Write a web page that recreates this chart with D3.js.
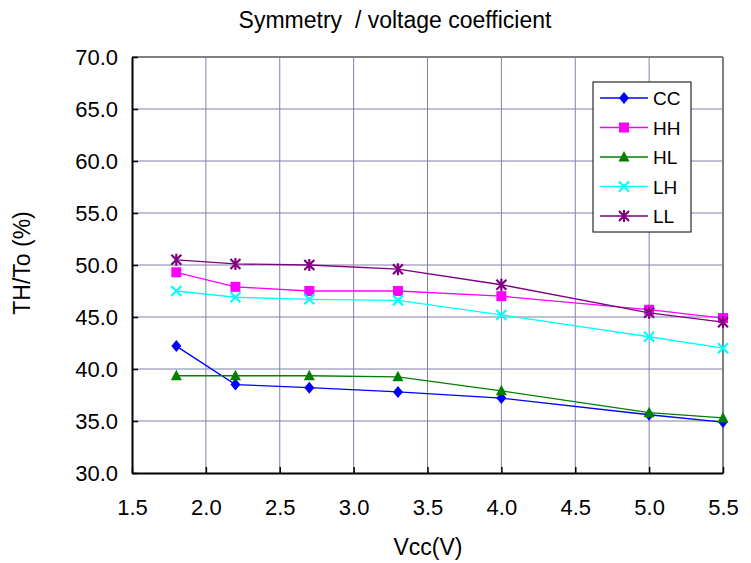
<!DOCTYPE html>
<html>
<head>
<meta charset="utf-8">
<script src="https://cdn.jsdelivr.net/npm/d3@7"></script>
<style>
  body { margin: 0; background: #fff; }
  text { font-family: "Liberation Sans", Arial, sans-serif; fill: #000; }
</style>
</head>
<body>
<div id="chart"></div>
<script>
// data
var vcc = [1.8, 2.2, 2.7, 3.3, 4.0, 5.0, 5.5];
var CC = [42.2, 38.5, 38.2, 37.8, 37.2, 35.6, 34.9];
var HH = [49.3, 47.9, 47.5, 47.5, 47.0, 45.7, 44.9];
var HL = [39.35, 39.35, 39.35, 39.25, 37.9, 35.8, 35.3];
var LH = [47.5, 46.9, 46.7, 46.6, 45.2, 43.1, 42.0];
var LL = [50.5, 50.1, 50.0, 49.6, 48.1, 45.4, 44.5];
var xTicks = [1.5, 2.0, 2.5, 3.0, 3.5, 4.0, 4.5, 5.0, 5.5];
var yTicks = [30, 35, 40, 45, 50, 55, 60, 65, 70];

var series = [
  {name: "CC", values: CC, color: "#0000ff", mark: "diamond"},
  {name: "HH", values: HH, color: "#ff00ff", mark: "square"},
  {name: "HL", values: HL, color: "#008000", mark: "triangle"},
  {name: "LH", values: LH, color: "#00ffff", mark: "x"},
  {name: "LL", values: LL, color: "#800080", mark: "star"}
];

var margin = {top: 57, right: 28, bottom: 90, left: 132},
    width = 751 - margin.left - margin.right,
    height = 563 - margin.top - margin.bottom;

var svgRoot = d3.select("#chart")
  .append("svg")
    .attr("width", 751)
    .attr("height", 563);

var svg = svgRoot.append("g")
    .attr("transform", "translate(" + margin.left + "," + margin.top + ")");

var x = d3.scaleLinear().domain([1.5, 5.5]).range([0, width]);
var y = d3.scaleLinear().domain([30, 70]).range([height, 0]);

// grid
svg.append("g").selectAll("line.vg")
  .data(xTicks.slice(1, -1))
  .enter().append("line")
    .attr("x1", function(d) { return x(d); })
    .attr("x2", function(d) { return x(d); })
    .attr("y1", 0).attr("y2", height)
    .attr("stroke", "#8080a8").attr("stroke-width", 1);
svg.append("g").selectAll("line.hg")
  .data(yTicks.slice(1, -1))
  .enter().append("line")
    .attr("y1", function(d) { return y(d); })
    .attr("y2", function(d) { return y(d); })
    .attr("x1", 0).attr("x2", width)
    .attr("stroke", "#8080a8").attr("stroke-width", 1);

// top and right border
svg.append("line").attr("x1", 0).attr("x2", width).attr("y1", 0).attr("y2", 0)
  .attr("stroke", "#808080").attr("stroke-width", 2);
svg.append("line").attr("x1", width).attr("x2", width).attr("y1", 0).attr("y2", height)
  .attr("stroke", "#808080").attr("stroke-width", 2);

// axes
var xAxis = svg.append("g")
  .attr("transform", "translate(0," + height + ")")
  .call(d3.axisBottom(x).tickValues(xTicks).tickFormat(d3.format(".1f")).tickSizeInner(-6).tickSizeOuter(0).tickPadding(26));
var yAxis = svg.append("g")
  .call(d3.axisLeft(y).tickValues(yTicks).tickFormat(d3.format(".1f")).tickSizeInner(-6).tickSizeOuter(0).tickPadding(14));
[xAxis, yAxis].forEach(function(a) {
  a.select(".domain").attr("stroke", "#000").attr("stroke-width", 2);
  a.selectAll(".tick line").attr("stroke", "#000").attr("stroke-width", 1.5);
  a.selectAll(".tick text").style("font-size", "22px").style("font-family", "Liberation Sans, Arial, sans-serif").attr("fill", "#000");
});

// marker drawing
function drawMark(g, type, color) {
  if (type === "diamond") {
    g.append("path").attr("d", "M0,-6L5,0L0,6L-5,0Z").attr("fill", color);
  } else if (type === "square") {
    g.append("rect").attr("x", -5).attr("y", -5).attr("width", 10).attr("height", 10).attr("fill", color);
  } else if (type === "triangle") {
    g.append("path").attr("d", "M0,-6L5.5,4.5L-5.5,4.5Z").attr("fill", color);
  } else if (type === "x") {
    g.append("path").attr("d", "M-5,-5L5,5M-5,5L5,-5").attr("stroke", color).attr("stroke-width", 2.2).attr("fill", "none");
  } else if (type === "star") {
    g.append("path").attr("d", "M-5,-5L5,5M-5,5L5,-5M0,-6L0,6").attr("stroke", color).attr("stroke-width", 2.2).attr("fill", "none");
  }
}

var line = d3.line()
  .x(function(d) { return x(d[0]); })
  .y(function(d) { return y(d[1]); });

series.forEach(function(s) {
  var pts = vcc.map(function(v, i) { return [v, s.values[i]]; });
  svg.append("path")
    .datum(pts)
    .attr("d", line)
    .attr("fill", "none")
    .attr("stroke", s.color)
    .attr("stroke-width", 1.3);
  pts.forEach(function(p) {
    var g = svg.append("g").attr("transform", "translate(" + x(p[0]) + "," + y(p[1]) + ")");
    drawMark(g, s.mark, s.color);
  });
});

// legend
var lg = svgRoot.append("g").attr("transform", "translate(593,82)");
lg.append("rect").attr("x", 0).attr("y", 0).attr("width", 98).attr("height", 150)
  .attr("fill", "#fff").attr("stroke", "#000").attr("stroke-width", 1);
series.forEach(function(s, i) {
  var yy = 16 + i * 29.5;
  lg.append("line").attr("x1", 7).attr("x2", 55).attr("y1", yy).attr("y2", yy)
    .attr("stroke", s.color).attr("stroke-width", 1.3);
  var m = lg.append("g").attr("transform", "translate(31," + yy + ")");
  drawMark(m, s.mark, s.color);
  lg.append("text").attr("x", 60).attr("y", yy + 7).style("font-size", "19px").text(s.name);
});

// title and axis labels
svgRoot.append("text").attr("x", 395).attr("y", 28).attr("text-anchor", "middle")
  .style("font-size", "23px").style("white-space", "pre").text("Symmetry  / voltage coefficient");
svgRoot.append("text").attr("x", 428).attr("y", 555).attr("text-anchor", "middle")
  .style("font-size", "23px").text("Vcc(V)");
svgRoot.append("text").attr("transform", "translate(30,263) rotate(-90)").attr("text-anchor", "middle")
  .style("font-size", "23px").text("TH/To (%)");
</script>
</body>
</html>
